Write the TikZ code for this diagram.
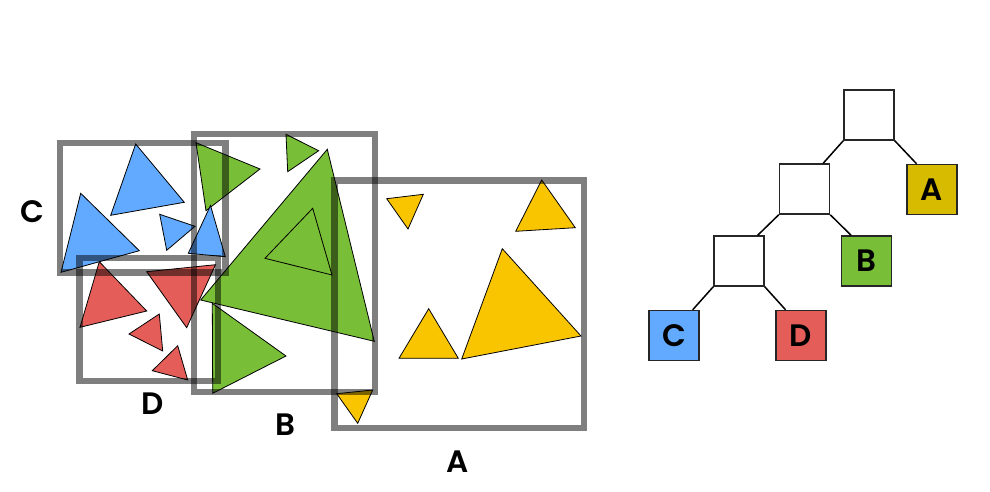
\documentclass[tikz,border=0pt]{standalone}
\usepackage{fontspec}
\setmainfont{Poppins}[BoldFont={Poppins SemiBold}]
\definecolor{cblue}{RGB}{97,170,255}
\definecolor{cgreen}{RGB}{120,190,55}
\definecolor{cred}{RGB}{228,93,88}
\definecolor{cyellow}{RGB}{249,196,0}
\definecolor{colive}{RGB}{214,187,0}
\begin{document}
\begin{tikzpicture}[x=1pt,y=-1pt,
  tri/.style={draw=black,line width=0.8pt,line join=miter},
  bbox/.style={draw=black,draw opacity=0.5,line width=6.5pt},
  lbl/.style={font=\fontsize{31}{31}\selectfont\bfseries,inner sep=0pt},
  tnode/.style={draw=black!85,line width=1.5pt,minimum size=50pt,inner sep=0pt,font=\fontsize{31}{31}\selectfont\bfseries},
  edge/.style={draw=black,line width=1.5pt}]
\useasboundingbox (0,0) rectangle (990,492);
% green triangles
\fill[cgreen,tri] (196,142.7) -- (260,169) -- (206,210.7) -- cycle;
\fill[cgreen,tri] (286,134.3) -- (318.7,150.7) -- (287.7,171.7) -- cycle;
\fill[cgreen,tri] (327.3,149.3) -- (374.3,341.3) -- (200.7,300) -- cycle;
\draw[tri] (312.7,208.3) -- (332,275) -- (265,258.3) -- cycle;
\fill[cgreen,tri] (212.3,303.3) -- (286,356) -- (212.7,393.3) -- cycle;
% blue triangles
\fill[cblue,tri] (135.7,144) -- (184.3,202.3) -- (110.7,215.3) -- cycle;
\fill[cblue,tri] (80.7,193.3) -- (139.3,250.7) -- (61,272.3) -- cycle;
\fill[cblue,tri] (159.7,214.3) -- (195,226.3) -- (166.7,250.3) -- cycle;
\fill[cblue,tri] (210.5,205.5) -- (225.3,256.7) -- (188.3,253.3) -- cycle;
% red triangles
\fill[cred,tri] (99.3,261.7) -- (146.7,311) -- (80,327.3) -- cycle;
\fill[cred,tri] (146.7,271.7) -- (215.5,264.7) -- (186.7,327.7) -- cycle;
\fill[cred,tri] (159.3,314) -- (162.7,351) -- (129,334) -- cycle;
\fill[cred,tri] (177.7,345.7) -- (187.7,380) -- (152.3,370.7) -- cycle;
% yellow triangles
\fill[cyellow,tri] (386.7,198.7) -- (423.3,194.3) -- (408,229) -- cycle;
\fill[cyellow,tri] (541.7,180) -- (575.3,227.7) -- (515.7,231.3) -- cycle;
\fill[cyellow,tri] (428.7,308.7) -- (458.3,358.3) -- (399,358.3) -- cycle;
\fill[cyellow,tri] (502.3,248.7) -- (581,336) -- (461.7,359) -- cycle;
\fill[cyellow,tri] (336.7,393.7) -- (372.7,390) -- (357.7,423.3) -- cycle;
% bounding boxes
\draw[bbox] (60,143) rectangle (225.5,272.5);
\draw[bbox] (79.5,258) rectangle (218,381);
\draw[bbox] (194,134) rectangle (375,392);
\draw[bbox] (334.5,180.5) rectangle (584,428);
% labels
\node[lbl] (lC) at (32,212) {C};
\node[lbl] (lD) at (152.5,404) {D};
\node[lbl] (lB) at (285,425) {B};
\node[lbl] (lA) at (458,462) {A};
% tree
\node[tnode] (root) at (869,115) {};
\node[tnode] (mid) at (804.5,189) {};
\node[tnode] (low) at (739,261) {};
\node[tnode,fill=colive] (tA) at (932,189.5) {A};
\node[tnode,fill=cgreen] (tB) at (866.5,261) {B};
\node[tnode,fill=cblue] (tC) at (674,335.5) {C};
\node[tnode,fill=cred] (tD) at (801,335.5) {D};
\draw[edge] (root.south west) -- (mid.54);
\draw[edge] (root.south east) -- (tA.121);
\draw[edge] (mid.south west) -- (low.54);
\draw[edge] (mid.south east) -- (tB.121);
\draw[edge] (low.south west) -- (tC.54);
\draw[edge] (low.south east) -- (tD.121);
\end{tikzpicture}
\end{document}
